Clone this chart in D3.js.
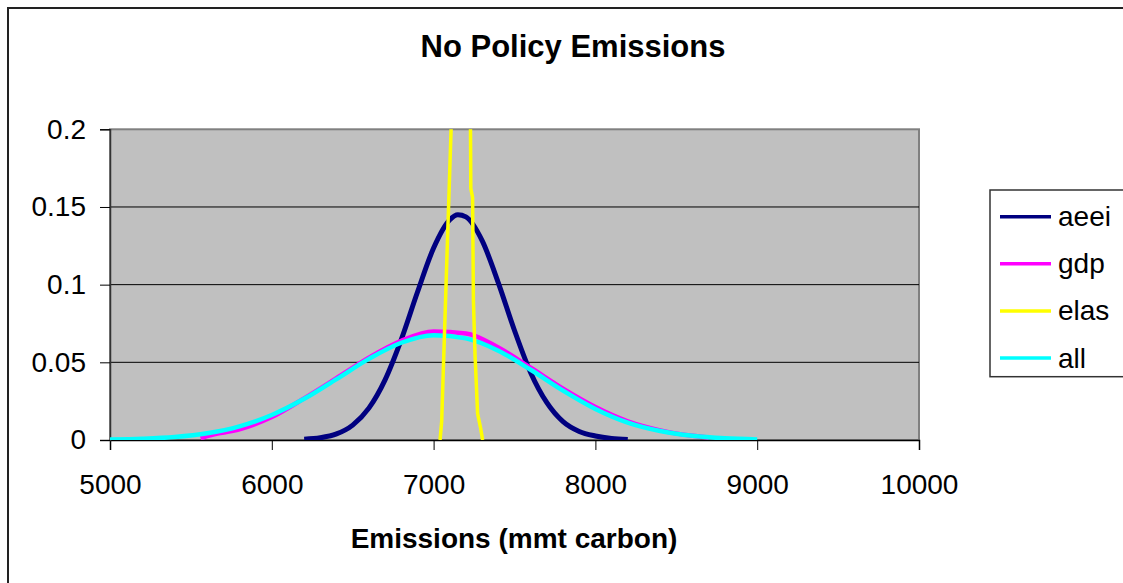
<!DOCTYPE html>
<html>
<head>
<meta charset="utf-8">
<script src="https://cdn.jsdelivr.net/npm/d3@7"></script>
<style>
  html, body { margin: 0; padding: 0; background: #fff; }
  svg { display: block; font-family: "Liberation Sans", Arial, sans-serif; }
</style>
</head>
<body>
<svg id="chart" width="1123" height="583"></svg>
<script>
// ---- data ----
const chartTitle = "No Policy Emissions";
const xAxisTitle = "Emissions (mmt carbon)";
const xTicks = [5000, 6000, 7000, 8000, 9000, 10000];
const yTicks = [0, 0.05, 0.1, 0.15, 0.2];
const yTickLabels = ["0", "0.05", "0.1", "0.15", "0.2"];
const seriesNames = ["aeei", "gdp", "elas", "all"];
const seriesColors = ["#000080", "#FF00FF", "#FFFF00", "#00FFFF"];

const aeeiData = [
  [6200, 0.0005], [6300, 0.0014], [6400, 0.0039], [6500, 0.0096], [6600, 0.0205],
  [6700, 0.0387], [6800, 0.0646], [6900, 0.0951], [7000, 0.1236], [7100, 0.1418],
  [7150, 0.1450], [7200, 0.1436], [7300, 0.1283], [7400, 0.1012], [7500, 0.0705],
  [7600, 0.0433], [7700, 0.0240], [7800, 0.0118], [7900, 0.0055], [8000, 0.0026],
  [8100, 0.0010], [8200, 0.0003]
];
const gdpData = [
  [5560, 0.0010], [5600, 0.0025], [5800, 0.0068], [6000, 0.0148], [6200, 0.0268],
  [6400, 0.0398], [6600, 0.0530], [6800, 0.0638], [7000, 0.0698], [7200, 0.0686],
  [7400, 0.0595], [7600, 0.0465], [7800, 0.0330], [8000, 0.0212], [8200, 0.0120],
  [8400, 0.0062], [8600, 0.0027], [8700, 0.0016]
];
const elasData = [
  [7040, 0.000], [7050, 0.012], [7060, 0.045], [7070, 0.077], [7080, 0.110],
  [7090, 0.142], [7100, 0.174], [7110, 0.206], [7130, 0.270], [7150, 0.310],
  [7170, 0.320], [7190, 0.300], [7210, 0.260], [7228, 0.200], [7230, 0.162],
  [7241, 0.156], [7246, 0.090], [7256, 0.055], [7272, 0.017], [7290, 0.008],
  [7303, 0.000]
];
const allData = [
  [5000, 0.0003], [5200, 0.0008], [5400, 0.0019], [5600, 0.0043], [5800, 0.0088],
  [6000, 0.0161], [6200, 0.0265], [6400, 0.0392], [6600, 0.0522], [6800, 0.0626],
  [7000, 0.0675], [7200, 0.0654], [7400, 0.0575], [7600, 0.0452], [7800, 0.0318],
  [8000, 0.0200], [8200, 0.0112], [8400, 0.0058], [8600, 0.0027], [8800, 0.0011],
  [9000, 0.0004]
];

// ---- layout ----
const svg = d3.select("#chart");
const plot = { left: 110, right: 919, top: 129.3, bottom: 440 };
const x = d3.scaleLinear().domain([5000, 10000]).range([plot.left, plot.right]);
const y = d3.scaleLinear().domain([0, 0.2]).range([plot.bottom, plot.top]);

// outer chart border
svg.append("rect")
  .attr("x", 8).attr("y", 8).attr("width", 1140).attr("height", 600)
  .attr("fill", "#fff").attr("stroke", "#222").attr("stroke-width", 2);

// plot area
svg.append("rect")
  .attr("x", plot.left).attr("y", plot.top)
  .attr("width", plot.right - plot.left).attr("height", plot.bottom - plot.top)
  .attr("fill", "#C0C0C0").attr("stroke", "#808080").attr("stroke-width", 2);

// gridlines
svg.append("g").selectAll("line")
  .data(yTicks.filter(d => d > 0 && d < 0.2))
  .join("line")
  .attr("x1", plot.left).attr("x2", plot.right)
  .attr("y1", d => y(d)).attr("y2", d => y(d))
  .attr("stroke", "#000").attr("stroke-width", 1);

// axes
const xAxis = d3.axisBottom(x).tickValues(xTicks).tickSize(10).tickPadding(24)
  .tickFormat(d3.format("d"));
const gx = svg.append("g").attr("transform", `translate(0,${plot.bottom})`).call(xAxis);
gx.select(".domain").attr("stroke", "#000").attr("stroke-width", 1.5);
gx.selectAll(".tick line").attr("stroke", "#000");
gx.selectAll(".tick text").attr("font-size", 28).attr("fill", "#000")
  .attr("font-family", "'Liberation Sans', Arial, sans-serif");

const yAxis = d3.axisLeft(y).tickValues(yTicks).tickSize(10).tickPadding(14)
  .tickFormat((d, i) => yTickLabels[i]);
const gy = svg.append("g").attr("transform", `translate(${plot.left},0)`).call(yAxis);
gy.select(".domain").attr("stroke", "#333").attr("stroke-width", 1.5);
gy.selectAll(".tick line").attr("stroke", "#000");
gy.selectAll(".tick text").attr("font-size", 28).attr("fill", "#000")
  .attr("font-family", "'Liberation Sans', Arial, sans-serif");

// clip
svg.append("clipPath").attr("id", "plotclip").append("rect")
  .attr("x", plot.left).attr("y", plot.top)
  .attr("width", plot.right - plot.left).attr("height", plot.bottom - plot.top);

const smooth = d3.line().x(d => x(d[0])).y(d => y(d[1])).curve(d3.curveMonotoneX);
const straight = d3.line().x(d => x(d[0])).y(d => y(d[1]));

const lines = svg.append("g").attr("clip-path", "url(#plotclip)");
const drawOrder = [
  { data: aeeiData, color: seriesColors[0], w: 5, gen: smooth },
  { data: gdpData, color: seriesColors[1], w: 4.5, gen: smooth },
  { data: allData, color: seriesColors[3], w: 4.5, gen: smooth },
  { data: elasData, color: seriesColors[2], w: 3.5, gen: straight }
];
drawOrder.forEach(s => {
  lines.append("path")
    .attr("d", s.gen(s.data))
    .attr("fill", "none")
    .attr("stroke", s.color)
    .attr("stroke-width", s.w)
    .attr("stroke-linejoin", "round");
});

// title
svg.append("text")
  .attr("x", 573).attr("y", 57)
  .attr("text-anchor", "middle")
  .attr("font-size", 31).attr("font-weight", "bold")
  .text(chartTitle);

// x axis title
svg.append("text")
  .attr("x", 514).attr("y", 548)
  .attr("text-anchor", "middle")
  .attr("font-size", 28).attr("font-weight", "bold")
  .text(xAxisTitle);

// legend
const legend = svg.append("g");
legend.append("rect")
  .attr("x", 990).attr("y", 190).attr("width", 150).attr("height", 186.7)
  .attr("fill", "#fff").attr("stroke", "#333").attr("stroke-width", 1.5);
const rowY = d3.scalePoint().domain(seriesNames).range([216.7, 358]);
seriesNames.forEach((name, i) => {
  legend.append("line")
    .attr("x1", 1000).attr("x2", 1051)
    .attr("y1", rowY(name)).attr("y2", rowY(name))
    .attr("stroke", seriesColors[i]).attr("stroke-width", 3.5);
  legend.append("text")
    .attr("x", 1058).attr("y", rowY(name) + 9.5)
    .attr("font-size", 28)
    .text(name);
});
</script>
</body>
</html>
